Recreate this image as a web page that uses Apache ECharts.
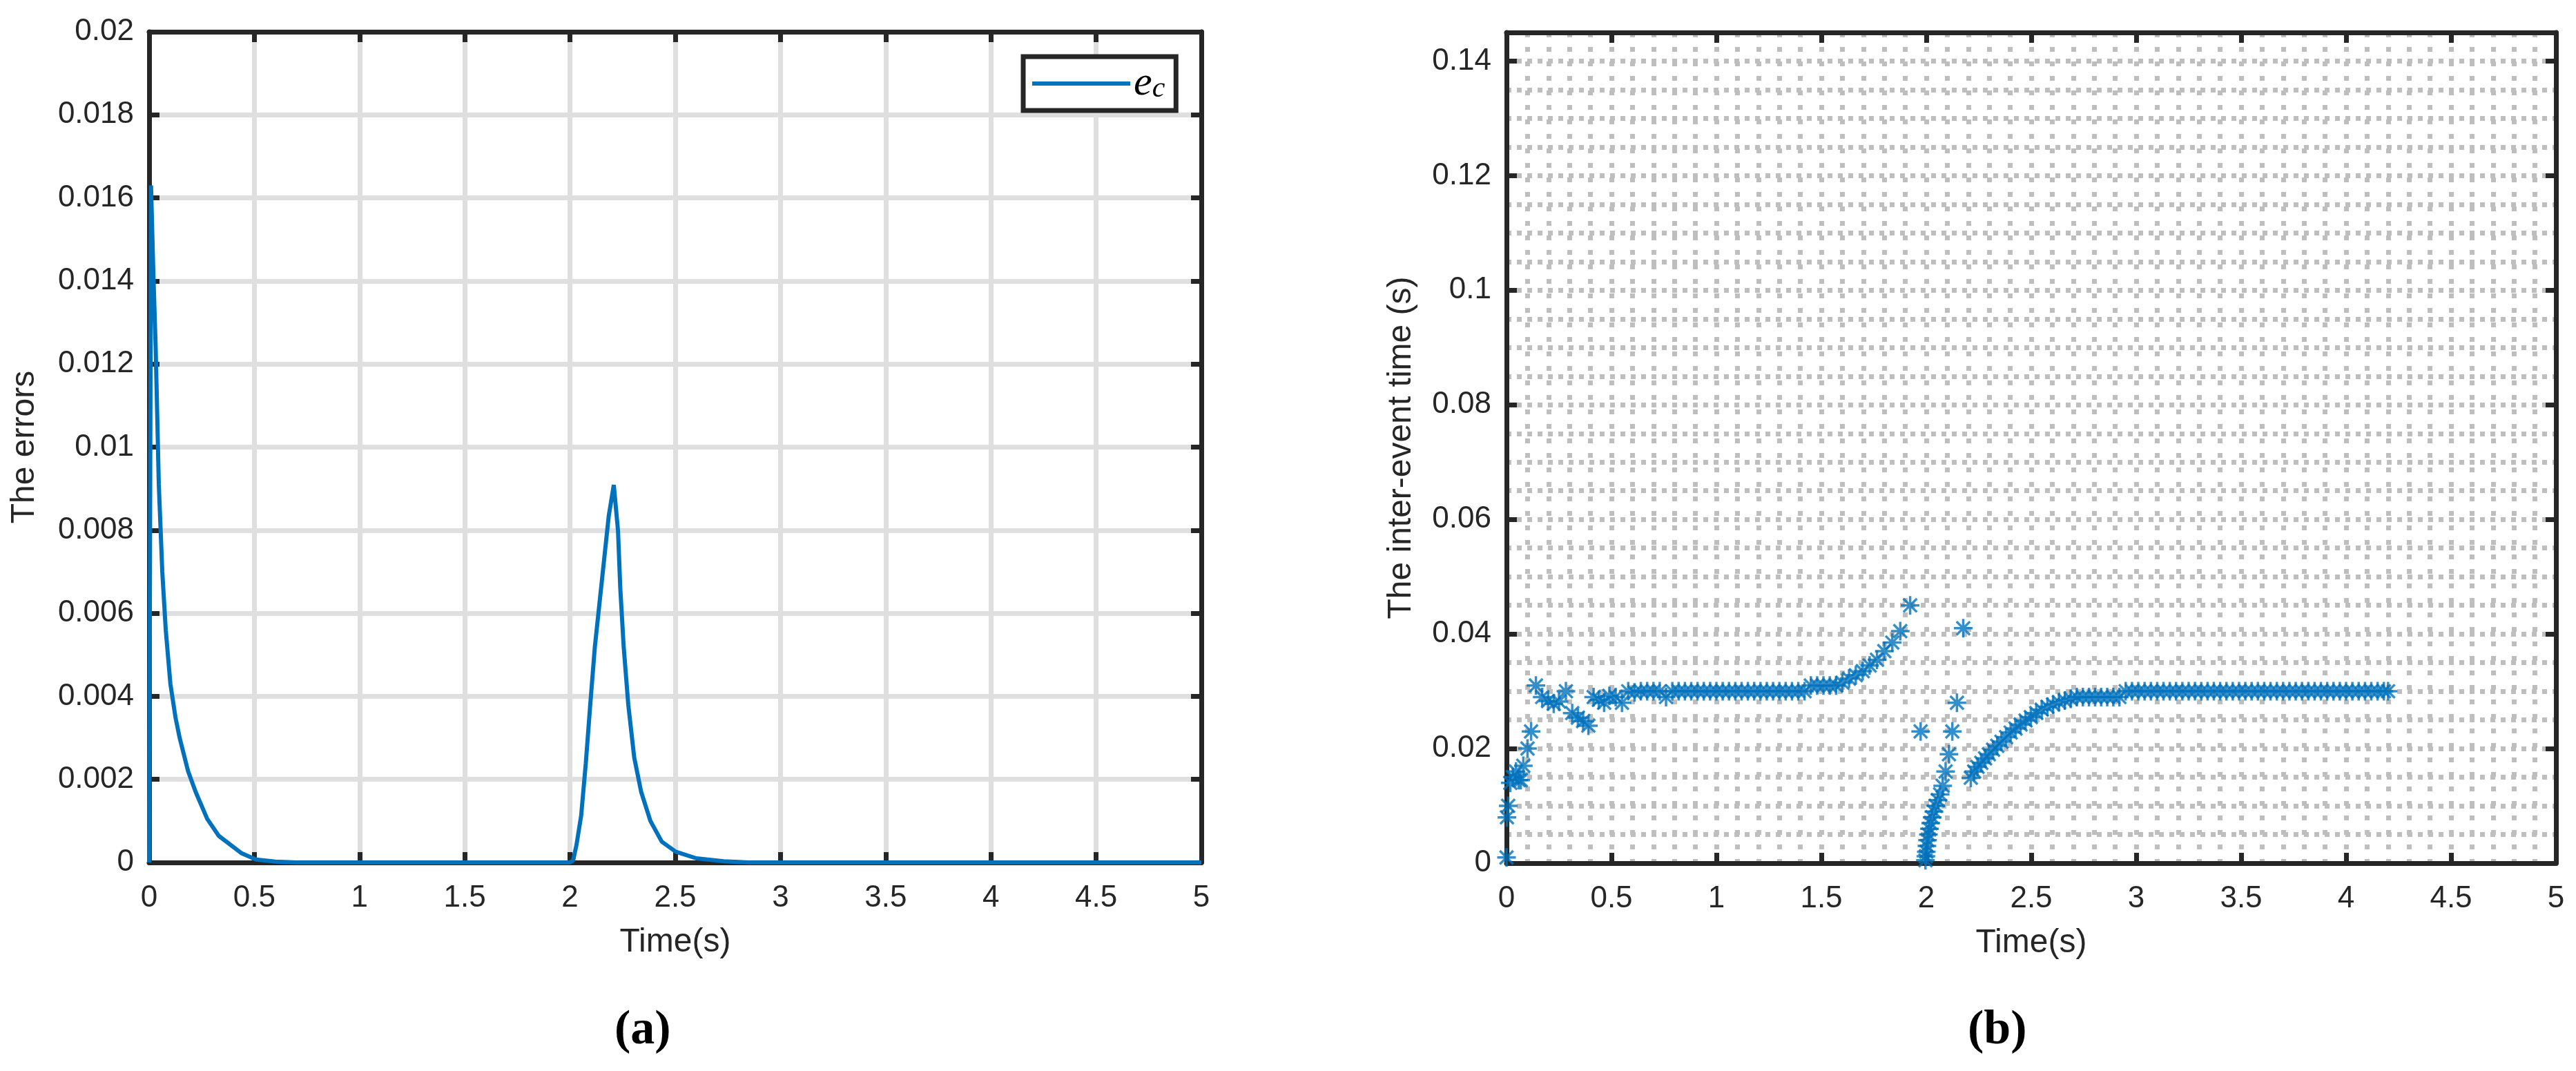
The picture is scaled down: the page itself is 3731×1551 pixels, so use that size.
<!DOCTYPE html>
<html>
<head>
<meta charset="utf-8">
<script src="https://cdn.jsdelivr.net/npm/echarts@6/dist/echarts.min.js"></script>
<style>
html,body{margin:0;padding:0;background:#ffffff;}
#chart{width:3731px;height:1551px;}
</style>
</head>
<body>
<div id="chart"></div>
<script>
// ---------- data: panel (a) error e_c ----------
const errTime = [0, 0.009, 0.020, 0.031, 0.046, 0.0625, 0.079, 0.101, 0.125, 0.145, 0.185, 0.221, 0.276, 0.331, 0.440, 0.508, 0.600, 0.700,
  2.000, 2.015, 2.031, 2.053, 2.075, 2.096, 2.118, 2.140, 2.162, 2.184, 2.208, 2.228, 2.239, 2.255, 2.277, 2.305, 2.338, 2.382, 2.436, 2.502, 2.600, 2.730, 2.850, 5.000];
const errValue = [0, 0.01630, 0.01420, 0.01240, 0.00910, 0.00700, 0.00560, 0.00430, 0.00350, 0.00300, 0.00220, 0.00170, 0.00105, 0.00064, 0.00022, 0.00007, 0.00002, 0,
  0, 0.00005, 0.00043, 0.00113, 0.00239, 0.00379, 0.00519, 0.00624, 0.00729, 0.00834, 0.00909, 0.00799, 0.00659, 0.00519, 0.00379, 0.00253, 0.00170, 0.00100, 0.00050, 0.00026, 0.00010, 0.00003, 0, 0];

// ---------- data: panel (b) inter-event time ----------
const eventTime = [
  0.000, 0.002, 0.008, 0.018, 0.030, 0.045, 0.058, 0.068, 0.080, 0.100, 0.117, 0.140, 0.170, 0.198, 0.225, 0.250, 0.283, 0.313, 0.340, 0.365,
  0.390, 0.415, 0.440, 0.465, 0.490, 0.520, 0.550, 0.580, 0.610, 0.640,
  0.67, 0.70, 0.73, 0.76, 0.79, 0.82, 0.85, 0.88, 0.91, 0.94, 0.97, 1.00, 1.03, 1.06, 1.09, 1.12, 1.15, 1.18, 1.21, 1.24, 1.27, 1.30, 1.33, 1.36, 1.39, 1.42,
  1.45, 1.48, 1.51, 1.54, 1.57,
  1.600, 1.632, 1.664, 1.697, 1.730, 1.765, 1.800, 1.838, 1.876, 1.923, 1.973,
  1.996, 1.998, 2.000, 2.003, 2.006, 2.010, 2.015, 2.021, 2.028, 2.036, 2.045, 2.055, 2.066, 2.078, 2.092, 2.108, 2.124, 2.146, 2.176,
  2.212, 2.228, 2.244, 2.262, 2.280, 2.298, 2.318, 2.338, 2.358, 2.380, 2.402, 2.425, 2.449, 2.473, 2.498, 2.524, 2.550, 2.577, 2.604, 2.632, 2.660, 2.688, 2.717,
  2.746, 2.775, 2.804, 2.833, 2.862, 2.891, 2.920,
  2.95, 2.98, 3.01, 3.04, 3.07, 3.10, 3.13, 3.16, 3.19, 3.22, 3.25, 3.28, 3.31, 3.34, 3.37, 3.40, 3.43, 3.46, 3.49, 3.52, 3.55,
  3.58, 3.61, 3.64, 3.67, 3.70, 3.73, 3.76, 3.79, 3.82, 3.85, 3.88, 3.91, 3.94, 3.97, 4.00, 4.03, 4.06, 4.09, 4.12, 4.15, 4.18, 4.20
];
const interEvent = [
  0.0010, 0.0080, 0.0100, 0.0140, 0.0150, 0.0160, 0.0145, 0.0145, 0.0170, 0.0200, 0.0230, 0.0310, 0.0290, 0.0283, 0.0278, 0.0282, 0.0300, 0.0262, 0.0254, 0.0248,
  0.0240, 0.0290, 0.0285, 0.0280, 0.0292, 0.0290, 0.0280, 0.0300, 0.0298, 0.0300,
  0.0300, 0.0300, 0.0300, 0.0290, 0.0300, 0.0300, 0.0300, 0.0300, 0.0300, 0.0300, 0.0300, 0.0300, 0.0300, 0.0300, 0.0300, 0.0300, 0.0300, 0.0300, 0.0300, 0.0300, 0.0300, 0.0300, 0.0300, 0.0300, 0.0300, 0.0300,
  0.0310, 0.0310, 0.0310, 0.0310, 0.0310,
  0.0315, 0.0322, 0.0328, 0.0335, 0.0345, 0.0355, 0.0370, 0.0385, 0.0405, 0.0450, 0.0230,
  0.0005, 0.0012, 0.0020, 0.0030, 0.0040, 0.0050, 0.0060, 0.0070, 0.0080, 0.0090, 0.0100, 0.0110, 0.0120, 0.0135, 0.0160, 0.0190, 0.0230, 0.0280, 0.0410,
  0.0149, 0.0160, 0.0168, 0.0175, 0.0183, 0.0190, 0.0198, 0.0205, 0.0212, 0.0220, 0.0228, 0.0235, 0.0242, 0.0249, 0.0255, 0.0262, 0.0268, 0.0273, 0.0277, 0.0281, 0.0284, 0.0287, 0.0290,
  0.0290, 0.0290, 0.0290, 0.0290, 0.0290, 0.0290, 0.0290,
  0.0300, 0.0300, 0.0300, 0.0300, 0.0300, 0.0300, 0.0300, 0.0300, 0.0300, 0.0300, 0.0300, 0.0300, 0.0300, 0.0300, 0.0300, 0.0300, 0.0300, 0.0300, 0.0300, 0.0300, 0.0300,
  0.0300, 0.0300, 0.0300, 0.0300, 0.0300, 0.0300, 0.0300, 0.0300, 0.0300, 0.0300, 0.0300, 0.0300, 0.0300, 0.0300, 0.0300, 0.0300, 0.0300, 0.0300, 0.0300, 0.0300, 0.0300, 0.0300
];

// ---------- axis ranges / ticks ----------
const timeRange = [0, 5];
const timeStep = 0.5;
const errRange = [0, 0.02];
const errStep = 0.002;
const gapRange = [0, 0.145];
const gapStep = 0.02;
const gapMinorStep = 0.005;
const timeMinorStep = 0.1;

const texts = {
  xName: 'Time(s)',
  yNameA: 'The errors',
  yNameB: 'The inter-event time (s)',
  capA: '(a)',
  capB: '(b)'
};

const AX = '#262626';
const BLUE = '#0072BD';
const SANS = 'Liberation Sans, Arial, Helvetica, sans-serif';
const SERIF = 'Liberation Serif, Times New Roman, serif';

const chart = echarts.init(document.getElementById('chart'), null, {renderer: 'canvas'});

function mainX(grid, nameGap) {
  return {
    gridIndex: grid, type: 'value', position: 'bottom', min: timeRange[0], max: timeRange[1], interval: timeStep, z: 3,
    axisLine: {show: true, onZero: false, lineStyle: {color: AX, width: 7}},
    axisTick: {show: true, inside: true, length: 15, lineStyle: {color: AX, width: 7}},
    axisLabel: {show: true, fontSize: 44, color: AX, fontFamily: SANS, margin: 30},
    splitLine: {show: false},
    name: texts.xName, nameLocation: 'middle', nameGap: nameGap,
    nameTextStyle: {fontSize: 48, color: AX, fontFamily: SANS}
  };
}
function auxX(grid) {
  return {
    gridIndex: grid, type: 'value', position: 'top', min: timeRange[0], max: timeRange[1], interval: timeStep, z: 3,
    axisLine: {show: true, onZero: false, lineStyle: {color: AX, width: 7}},
    axisTick: {show: true, inside: true, length: 15, lineStyle: {color: AX, width: 7}},
    axisLabel: {show: false}, splitLine: {show: false}
  };
}
function gridX(grid, step, lineStyle) {
  return {
    gridIndex: grid, type: 'value', position: 'bottom', min: timeRange[0], max: timeRange[1], interval: step, z: 0,
    axisLine: {show: false}, axisTick: {show: false}, axisLabel: {show: false},
    splitLine: {show: true, showMinLine: false, showMaxLine: false, lineStyle: lineStyle}
  };
}
function mainY(grid, range, step, name, nameGap, showMax) {
  return {
    gridIndex: grid, type: 'value', position: 'left', min: range[0], max: range[1], interval: step, z: 3,
    axisLine: {show: true, onZero: false, lineStyle: {color: AX, width: 7}},
    axisTick: {show: true, inside: true, length: 15, lineStyle: {color: AX, width: 7}},
    axisLabel: {show: true, fontSize: 44, color: AX, fontFamily: SANS, margin: 22, showMaxLabel: showMax},
    splitLine: {show: false},
    name: name, nameLocation: 'middle', nameGap: nameGap,
    nameTextStyle: {fontSize: 48, color: AX, fontFamily: SANS}
  };
}
function auxY(grid, range, step) {
  return {
    gridIndex: grid, type: 'value', position: 'right', min: range[0], max: range[1], interval: step, z: 3,
    axisLine: {show: true, onZero: false, lineStyle: {color: AX, width: 7}},
    axisTick: {show: true, inside: true, length: 15, lineStyle: {color: AX, width: 7}},
    axisLabel: {show: false}, splitLine: {show: false}
  };
}
function gridY(grid, range, step, lineStyle) {
  return {
    gridIndex: grid, type: 'value', position: 'left', min: range[0], max: range[1], interval: step, z: 0,
    axisLine: {show: false}, axisTick: {show: false}, axisLabel: {show: false},
    splitLine: {show: true, showMinLine: false, showMaxLine: false, lineStyle: lineStyle}
  };
}

const solidGrid = {color: '#dfdfdf', width: 7, type: 'solid'};
const dotGridV = {color: '#bebebe', width: 7, type: [7, 14]};
const dotGridH = {color: '#bebebe', width: 7, type: [7, 8]};

const errData = errTime.map((t, i) => [t, errValue[i]]);
const eventData = eventTime.map((t, i) => [t, interEvent[i]]);

const option = {
  animation: false,
  backgroundColor: '#ffffff',
  grid: [
    {left: 216, top: 46, width: 1524, height: 1203, containLabel: false},
    {left: 2182, top: 47, width: 1520, height: 1203, containLabel: false}
  ],
  title: [
    {text: texts.capA, left: 890, top: 1458, padding: 0, textStyle: {fontFamily: SERIF, fontWeight: 'bold', fontSize: 70, color: '#000'}},
    {text: texts.capB, left: 2850, top: 1458, padding: 0, textStyle: {fontFamily: SERIF, fontWeight: 'bold', fontSize: 70, color: '#000'}}
  ],
  legend: {
    show: true, left: 1482, top: 82, orient: 'horizontal',
    data: [{name: 'ec', icon: 'rect'}],
    itemWidth: 142, itemHeight: 6,
    padding: [9, 16, 9, 13],
    borderColor: AX, borderWidth: 7, backgroundColor: '#ffffff',
    formatter: function () { return '{e|e}{c|c}'; },
    textStyle: {
      color: '#000',
      rich: {
        e: {fontFamily: SERIF, fontStyle: 'italic', fontSize: 60, lineHeight: 58, color: '#000'},
        c: {fontFamily: SERIF, fontStyle: 'italic', fontSize: 42, lineHeight: 26, verticalAlign: 'bottom', color: '#000'}
      }
    }
  },
  xAxis: [
    mainX(0, 92), auxX(0), gridX(0, timeStep, solidGrid),
    mainX(1, 92), auxX(1), gridX(1, timeMinorStep, dotGridV)
  ],
  yAxis: [
    mainY(0, errRange, errStep, texts.yNameA, 156, true), auxY(0, errRange, errStep), gridY(0, errRange, errStep, solidGrid),
    mainY(1, gapRange, gapStep, texts.yNameB, 128, false), auxY(1, gapRange, gapStep), gridY(1, gapRange, gapMinorStep, dotGridH)
  ],
  series: [
    {
      name: 'ec', type: 'line', xAxisIndex: 0, yAxisIndex: 0, data: errData,
      showSymbol: false, symbol: 'none', smooth: false, z: 5,
      lineStyle: {color: BLUE, width: 6}, itemStyle: {color: BLUE}
    },
    {
      name: 'events', type: 'scatter', xAxisIndex: 3, yAxisIndex: 3, data: eventData, z: 5,
      symbol: 'path://M100,0L100,200M0,100L200,100M28,28L172,172M28,172L172,28',
      symbolSize: 27,
      itemStyle: {color: BLUE, borderColor: BLUE, borderWidth: 3.5}
    }
  ]
};
chart.setOption(option);
</script>
</body>
</html>
